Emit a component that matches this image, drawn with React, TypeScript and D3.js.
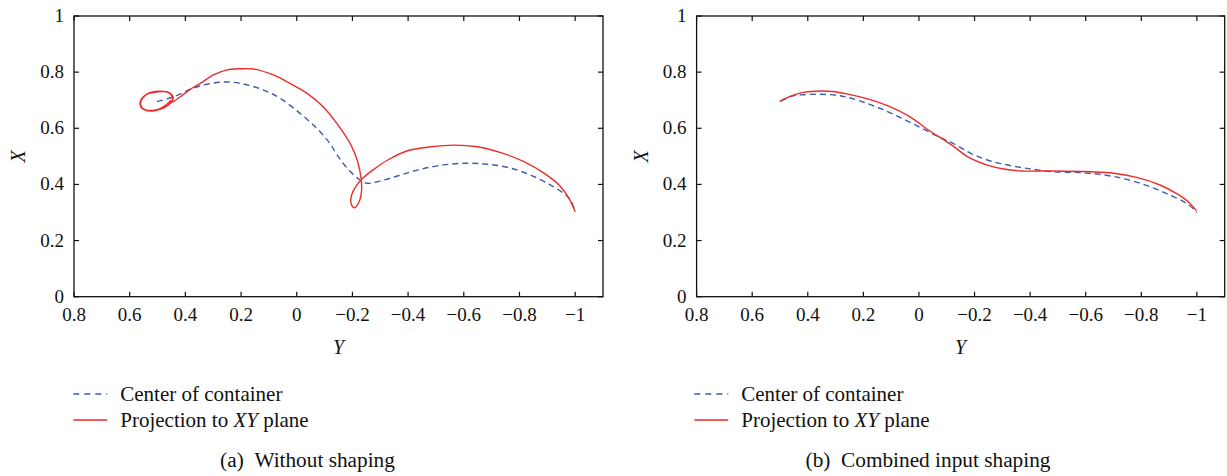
import React from "react";
import * as d3 from "d3";

// Y (horizontal) tick values and X (vertical) tick values
const hTicks = [0.8, 0.6, 0.4, 0.2, 0, -0.2, -0.4, -0.6, -0.8, -1];
const vTicks = [0, 0.2, 0.4, 0.6, 0.8, 1];

// Panel (a): Without shaping — [Y, X]
const centerA: [number, number][] = [
  [0.502, 0.695], [0.442, 0.712], [0.382, 0.739], [0.322, 0.757], [0.257, 0.765],
  [0.191, 0.758], [0.119, 0.736], [0.06, 0.707], [-0.012, 0.653], [-0.072, 0.6],
  [-0.119, 0.546], [-0.143, 0.508], [-0.182, 0.457], [-0.224, 0.418], [-0.254, 0.404],
  [-0.314, 0.416], [-0.374, 0.434], [-0.433, 0.451], [-0.505, 0.466], [-0.589, 0.475],
  [-0.672, 0.473], [-0.756, 0.461], [-0.839, 0.434], [-0.911, 0.398], [-0.959, 0.368],
  [-0.983, 0.344], [-1.0, 0.303],
];
const projA: [number, number][] = [
  [0.452, 0.7], [0.47, 0.683], [0.513, 0.662], [0.552, 0.669], [0.561, 0.689],
  [0.543, 0.718], [0.496, 0.73], [0.46, 0.727], [0.444, 0.71], [0.458, 0.685],
  [0.513, 0.664], [0.555, 0.671], [0.563, 0.691], [0.541, 0.72], [0.494, 0.732],
  [0.457, 0.726], [0.445, 0.707], [0.46, 0.684], [0.512, 0.663], [0.553, 0.67],
  [0.562, 0.69], [0.542, 0.719], [0.495, 0.731], [0.459, 0.727], [0.446, 0.708],
  [0.448, 0.693], [0.418, 0.7125],
  [0.382, 0.739], [0.346, 0.76], [0.299, 0.79], [0.251, 0.808], [0.203, 0.812],
  [0.155, 0.811], [0.084, 0.79], [0.024, 0.76], [-0.036, 0.725], [-0.095, 0.677],
  [-0.135, 0.629], [-0.165, 0.588], [-0.195, 0.54], [-0.219, 0.481], [-0.231, 0.422],
  [-0.233, 0.38], [-0.224, 0.338], [-0.207, 0.317], [-0.195, 0.333], [-0.197, 0.362],
  [-0.213, 0.394], [-0.237, 0.422], [-0.273, 0.451], [-0.327, 0.487], [-0.398, 0.52],
  [-0.482, 0.534], [-0.566, 0.54], [-0.649, 0.534], [-0.733, 0.513], [-0.816, 0.481],
  [-0.888, 0.44], [-0.948, 0.392], [-0.978, 0.35], [-1.0, 0.303],
];

// Panel (b): Combined input shaping — [Y, X]
const centerB: [number, number][] = [
  [0.497, 0.698], [0.455, 0.715], [0.408, 0.72], [0.324, 0.72], [0.264, 0.712],
  [0.205, 0.695], [0.133, 0.668], [0.062, 0.636], [-0.01, 0.6], [-0.07, 0.57],
  [-0.127, 0.544], [-0.186, 0.511], [-0.246, 0.487], [-0.305, 0.472], [-0.389, 0.457],
  [-0.485, 0.445], [-0.58, 0.442], [-0.664, 0.434], [-0.748, 0.418], [-0.831, 0.392],
  [-0.903, 0.362], [-0.962, 0.333], [-0.992, 0.309], [-1.0, 0.3],
];
const projB: [number, number][] = [
  [0.501, 0.695], [0.468, 0.712], [0.42, 0.727], [0.374, 0.732], [0.312, 0.731],
  [0.252, 0.721], [0.181, 0.704], [0.109, 0.679], [0.038, 0.644], [-0.034, 0.594],
  [-0.094, 0.556], [-0.127, 0.534], [-0.174, 0.499], [-0.246, 0.469], [-0.305, 0.455],
  [-0.365, 0.448], [-0.485, 0.448], [-0.616, 0.445], [-0.7, 0.44], [-0.783, 0.425],
  [-0.867, 0.398], [-0.926, 0.368], [-0.962, 0.344], [-0.986, 0.321], [-0.998, 0.306],
];

const legendLabels = ["Center of container", "Projection to", "plane"];
const captions = ["(a)\u00a0\u00a0Without shaping", "(b)\u00a0\u00a0Combined input shaping"];

const BLUE = "#3d5dab";
const RED = "#ee2a2a";
const FONT = "Liberation Serif, Times New Roman, Tinos, DejaVu Serif, Noto Serif, serif";

const fmt = (v: number) => {
  const s = String(Math.round(v * 10) / 10);
  return s.startsWith("-") ? "\u2212" + s.slice(1) : s;
};

function Panel({ x0, x1, center, proj, caption, capX, legX }: any) {
  const top = 16, bottom = 296.7;
  const sx = d3.scaleLinear().domain([0.8, -1.1]).range([x0, x1]);
  const sy = d3.scaleLinear().domain([0, 1]).range([bottom, top]);
  const line = d3
    .line<[number, number]>()
    .x((d) => sx(d[0]))
    .y((d) => sy(d[1]))
    .curve(d3.curveCatmullRom.alpha(0.5));
  const tl = 5;
  const txt = { fontFamily: FONT, fill: "#111" } as any;
  return (
    <g>
      <path d={line(center) || ""} fill="none" stroke={BLUE} strokeWidth={1.4} strokeDasharray="6,4" />
      <path d={line(proj) || ""} fill="none" stroke={RED} strokeWidth={1.4} />
      <rect x={x0} y={top} width={x1 - x0} height={bottom - top} fill="none" stroke="#111" strokeWidth={1.3} />
      {hTicks.map((t) => (
        <g key={"h" + t}>
          <line x1={sx(t)} x2={sx(t)} y1={bottom} y2={bottom - tl} stroke="#111" strokeWidth={1.2} />
          <line x1={sx(t)} x2={sx(t)} y1={top} y2={top + tl} stroke="#111" strokeWidth={1.2} />
          <text x={sx(t)} y={321} textAnchor="middle" style={txt} fontSize={19}>
            {fmt(t)}
          </text>
        </g>
      ))}
      {vTicks.map((t) => (
        <g key={"v" + t}>
          <line x1={x0} x2={x0 + tl} y1={sy(t)} y2={sy(t)} stroke="#111" strokeWidth={1.2} />
          <line x1={x1} x2={x1 - tl} y1={sy(t)} y2={sy(t)} stroke="#111" strokeWidth={1.2} />
          <text x={x0 - 10} y={sy(t) + 6} textAnchor="end" style={txt} fontSize={19}>
            {fmt(t)}
          </text>
        </g>
      ))}
      <text x={(x0 + x1) / 2} y={354} textAnchor="middle" style={txt} fontStyle="italic" fontSize={20}>
        Y
      </text>
      <text
        transform={`translate(${x0 - 49},${(top + bottom) / 2}) rotate(-90)`}
        textAnchor="middle"
        style={txt}
        fontStyle="italic"
        fontSize={20}
      >
        X
      </text>
      <line x1={legX} x2={legX + 34} y1={394} y2={394} stroke={BLUE} strokeWidth={1.4} strokeDasharray="6,5" />
      <line x1={legX} x2={legX + 34} y1={420} y2={420} stroke={RED} strokeWidth={1.4} />
      <text x={legX + 47} y={401} style={txt} fontSize={21}>
        {legendLabels[0]}
      </text>
      <text x={legX + 47} y={427} style={txt} fontSize={21}>
        {legendLabels[1]} <tspan fontStyle="italic">XY</tspan> {legendLabels[2]}
      </text>
      <text x={capX} y={467} textAnchor="middle" style={txt} fontSize={21.3}>
        {caption}
      </text>
    </g>
  );
}

export default function App() {
  return (
    <svg
      width={1227}
      height={476}
      viewBox="0 0 1227 476"
      style={{ position: "absolute", left: 0, top: 0, background: "#fff" }}
    >
      <rect width={1227} height={476} fill="#fff" />
      <Panel x0={74} x1={603} center={centerA} proj={projA} caption={captions[0]} capX={307.5} legX={73.3} />
      <Panel x0={696.6} x1={1224.7} center={centerB} proj={projB} caption={captions[1]} capX={928} legX={694.3} />
    </svg>
  );
}
